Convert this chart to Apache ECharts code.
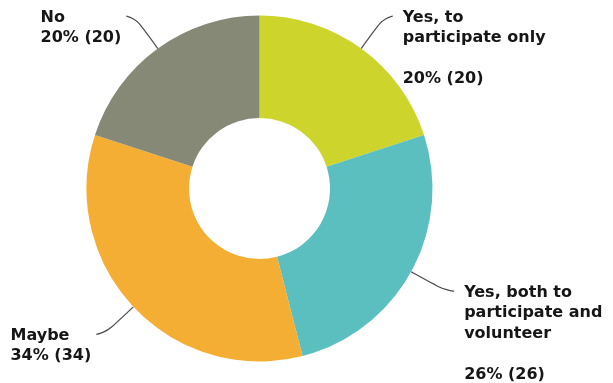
<!DOCTYPE html>
<html>
<head>
<meta charset="utf-8">
<script src="https://cdn.jsdelivr.net/npm/echarts@6/dist/echarts.min.js"></script>
<style>
  html, body { margin: 0; padding: 0; background: #ffffff; }
  #chart { width: 613px; height: 383px; }
</style>
</head>
<body>
<div id="chart"></div>
<script>
// Survey answers, clockwise from 12 o'clock
const categories = [
  'Yes, to\nparticipate only',
  'Yes, both to\nparticipate and\nvolunteer',
  'Maybe',
  'No'
];
const counts = [20, 26, 34, 20];

const palette = ['#cdd42b', '#5bbfc0', '#f4ae34', '#878977'];

const chart = echarts.init(document.getElementById('chart'), null, { renderer: 'canvas' });

const LINE_H = 20.5;

chart.setOption({
  backgroundColor: '#ffffff',
  color: palette,
  animation: false,
  series: [{
    type: 'pie',
    center: [259.5, 188.5],
    radius: [70.5, 173],
    startAngle: 90,
    clockwise: true,
    avoidLabelOverlap: false,
    percentPrecision: 0,
    itemStyle: { borderWidth: 0 },
    label: {
      show: true,
      position: 'outside',
      color: '#161616',
      fontFamily: 'DejaVu Sans',
      fontWeight: 'bold',
      fontSize: 16,
      lineHeight: LINE_H,
      formatter: function (p) {
        // wrapped answers get an empty line before the share
        const gap = p.name.indexOf('\n') >= 0 ? '\n\n' : '\n';
        return p.name + gap + p.percent + '% (' + p.value + ')';
      }
    },
    labelLine: {
      show: true,
      length: 40,
      length2: 8,
      smooth: 0.8,
      lineStyle: { color: '#4a4a4a', width: 1.2 }
    },
    // keep each text block left-aligned, its first line level with the guide end
    labelLayout: function (params) {
      const pts = params.labelLinePoints;
      if (!pts) return {};
      const end = pts[pts.length - 1];
      const prev = pts[pts.length - 2];
      const toRight = end[0] >= prev[0];
      const w = params.labelRect.width;
      return {
        x: toRight ? end[0] + 10 : end[0] - 5 - w,
        y: end[1] - 9,
        align: 'left',
        verticalAlign: 'top',
        labelLinePoints: pts
      };
    },
    data: categories.map(function (name, i) {
      return { name: name, value: counts[i] };
    })
  }]
});
</script>
</body>
</html>
